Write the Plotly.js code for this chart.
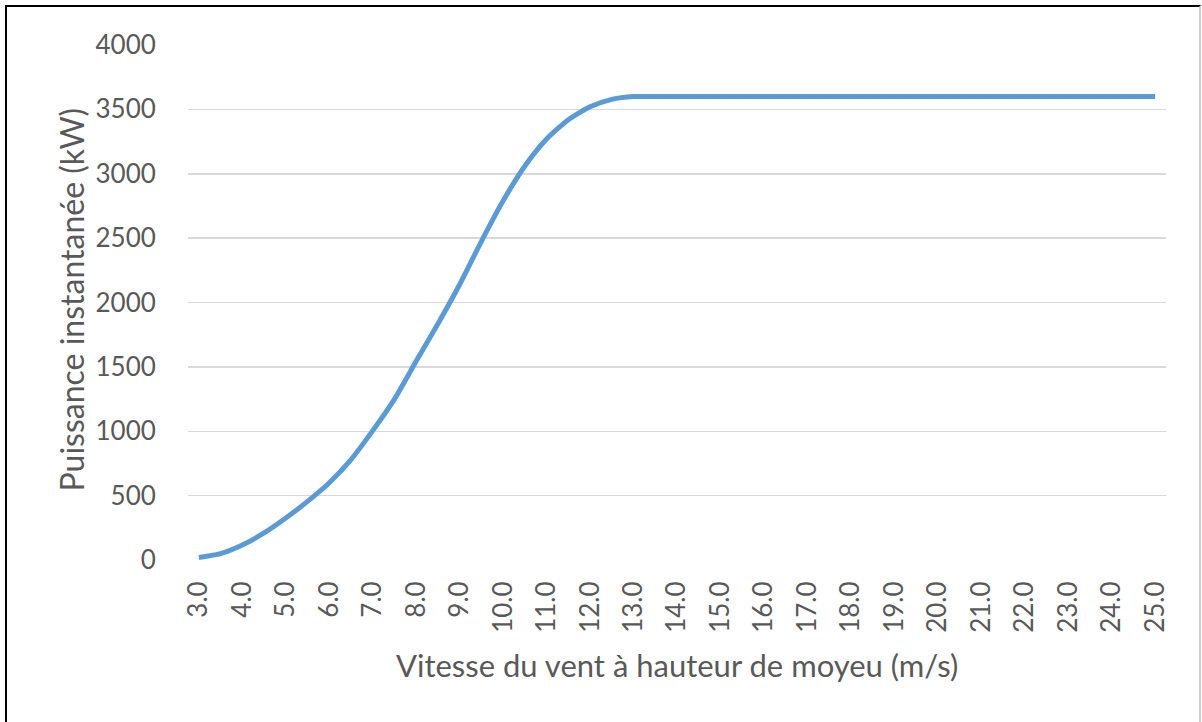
<!DOCTYPE html>
<html>
<head>
<meta charset="utf-8">
<script src="https://cdn.plot.ly/plotly-3.0.1.min.js"></script>
<style>
  html, body { margin: 0; padding: 0; background: #fff; }
  #wrap { position: relative; width: 1202px; height: 722px; overflow: hidden; }
  #chart { width: 1202px; height: 722px; }
  #frame { position: absolute; left: 5px; top: 5px; width: 1192px; height: 740px;
           border-left: 2px solid #000; border-top: 2px solid #000; border-right: 2px solid #cfcfcf;
           pointer-events: none; }
</style>
</head>
<body>
<div id="wrap">
  <div id="chart"></div>
  <div id="frame"></div>
</div>
<script>
// Wind speed at hub height (m/s)
const windSpeed = [3.0,3.5,4.0,4.5,5.0,5.5,6.0,6.5,7.0,7.5,8.0,8.5,9.0,9.5,10.0,10.5,11.0,11.5,12.0,12.5,13.0,
  13.5,14.0,14.5,15.0,15.5,16.0,16.5,17.0,17.5,18.0,18.5,19.0,19.5,20.0,20.5,21.0,21.5,22.0,22.5,23.0,23.5,24.0,24.5,25.0];
// Instantaneous power (kW)
const power = [20,50,117,210,326,455,600,780,1005,1250,1545,1835,2140,2475,2790,3060,3270,3420,3520,3578,3600,
  3600,3600,3600,3600,3600,3600,3600,3600,3600,3600,3600,3600,3600,3600,3600,3600,3600,3600,3600,3600,3600,3600,3600,3600];
const tickValues = [3,4,5,6,7,8,9,10,11,12,13,14,15,16,17,18,19,20,21,22,23,24,25];
const tickLabels = ["3.0","4.0","5.0","6.0","7.0","8.0","9.0","10.0","11.0","12.0","13.0","14.0","15.0","16.0","17.0","18.0","19.0","20.0","21.0","22.0","23.0","24.0","25.0"];
const xTitle = "Vitesse du vent à hauteur de moyeu (m/s)";
const yTitle = "Puissance instantanée (kW)";

const font = "Lato, 'Open Sans', sans-serif";
const grey = "#595959";

Plotly.newPlot("chart", [{
  x: windSpeed, y: power, type: "scatter", mode: "lines",
  line: {color: "#5B9BD5", width: 5, shape: "spline", smoothing: 0.6},
  hoverinfo: "skip"
}], {
  width: 1202, height: 722,
  margin: {l: 188, r: 36, t: 45, b: 162},
  paper_bgcolor: "#fff", plot_bgcolor: "#fff",
  showlegend: false,
  font: {family: font, color: grey},
  xaxis: {
    range: [2.75, 25.25], tickvals: tickValues, ticktext: tickLabels,
    tickangle: -90, tickfont: {family: font, size: 26, color: grey},
    showgrid: false, zeroline: false, showline: false,
    ticks: "outside", ticklen: 10, tickcolor: "rgba(0,0,0,0)",
    title: {text: ""}
  },
  yaxis: {
    range: [0, 4000], dtick: 500, tickfont: {family: font, size: 26, color: grey},
    showgrid: true, gridcolor: "#d9d9d9", gridwidth: 1.5, zeroline: false, showline: false,
    ticks: "outside", ticklen: 26, tickcolor: "rgba(0,0,0,0)",
    title: {text: ""}
  },
  annotations: [
    {text: xTitle, xref: "paper", yref: "paper", x: 0.5, y: 0, yshift: -105, xanchor: "center", yanchor: "middle",
     showarrow: false, font: {family: font, size: 31, color: grey}},
    {text: yTitle, xref: "paper", yref: "paper", x: 0, xshift: -117, y: 0.5, yshift: 3, xanchor: "center", yanchor: "middle",
     textangle: -90, showarrow: false, font: {family: font, size: 32, color: grey}}
  ]
}, {staticPlot: true});
</script>
</body>
</html>
